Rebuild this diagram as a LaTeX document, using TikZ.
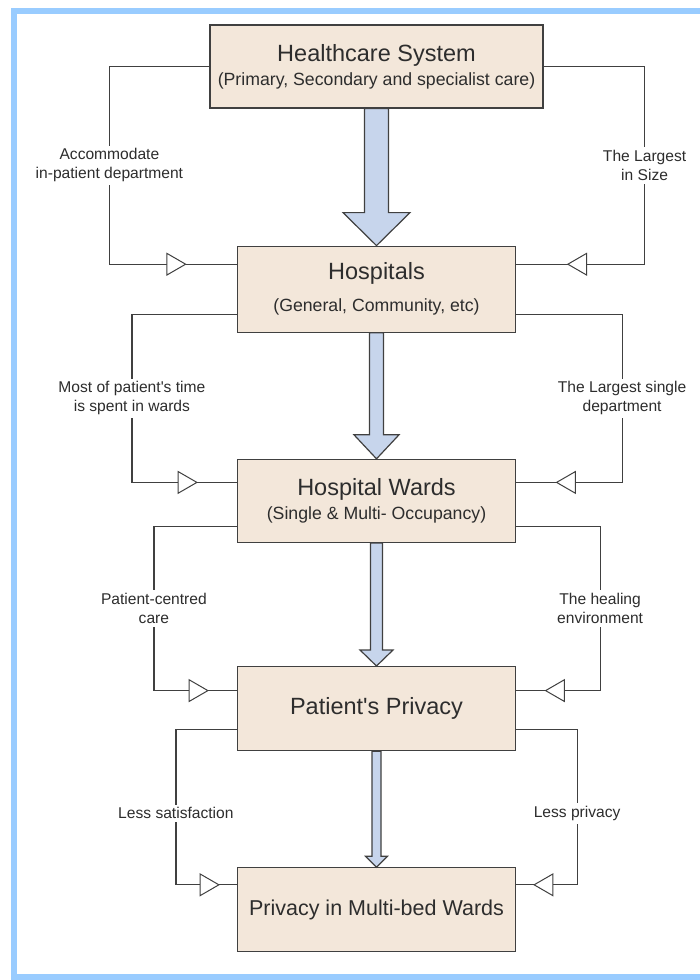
\documentclass[tikz,border=0pt]{standalone}
\usepackage{fontspec}
\setmainfont{Liberation Sans}
\usetikzlibrary{positioning,shapes.geometric}
\definecolor{framesky}{RGB}{153,204,255}
\definecolor{boxbeige}{RGB}{243,231,218}
\definecolor{boxedge}{RGB}{64,64,64}
\definecolor{flowblue}{RGB}{199,213,236}
\definecolor{inkgray}{RGB}{45,45,45}

\newcommand{\boxsub}{\fontsize{17.7}{21}\selectfont}
% from, to, half shaft, half head, head length
\newcommand{\fatarrow}[5]{%
  \draw[bigflow] ([xshift=-#3]#1.south) -- ([xshift=-#3,yshift=#5]#2.north)
    -- ([xshift=-#4,yshift=#5]#2.north) -- (#2.north)
    -- ([xshift=#4,yshift=#5]#2.north) -- ([xshift=#3,yshift=#5]#2.north)
    -- ([xshift=#3]#1.south) -- cycle;}

\begin{document}
\begin{tikzpicture}[x=1pt, y=1pt,
    box/.style={rectangle, draw=boxedge, line width=1.2pt, fill=boxbeige,
                minimum width=278pt, minimum height=84pt, align=center,
                text=inkgray, font=\fontsize{23.5}{26}\selectfont},
    conn/.style={draw=boxedge, line width=1.2pt},
    lab/.style={fill=white, align=center, text=inkgray, inner sep=3pt,
                font=\fontsize{15.6}{19}\selectfont},
    tri/.style={regular polygon, regular polygon sides=3, draw=boxedge,
                fill=white, line width=1pt, minimum size=25pt, inner sep=0pt},
    tril/.style={tri, shape border rotate=-90},
    trir/.style={tri, shape border rotate=90},
    bigflow/.style={draw=boxedge, line width=1.2pt, fill=flowblue}
  ]
  \useasboundingbox (0,0) rectangle (700,-980);
  % frame, open on the right
  \draw[framesky, line width=6pt] (700,-11) -- (14,-11) -- (14,-977) -- (700,-977);

  % --- boxes ---
  \node[box, minimum width=333pt, minimum height=83pt] (hs) at (376.5,-66.5)
    {Healthcare System\\[-2pt]{\boxsub (Primary, Secondary and specialist care)}};
  \node[box, below=137pt of hs, minimum height=86pt] (hosp)
    {Hospitals\\[6pt]{\boxsub (General, Community, etc)}};
  \node[box, below=126pt of hosp, minimum height=83pt] (wards)
    {Hospital Wards\\[-2pt]{\boxsub (Single \& Multi- Occupancy)}};
  \node[box, below=123pt of wards] (priv) {Patient\textquotesingle s Privacy};
  \node[box, below=116pt of priv, font=\fontsize{21.5}{25}\selectfont] (multi)
    {Privacy in Multi-bed Wards};

  % --- main flow ---
  \fatarrow{hs}{hosp}{12pt}{33.5pt}{33pt}
  \fatarrow{hosp}{wards}{7pt}{22.5pt}{24pt}
  \fatarrow{wards}{priv}{6pt}{16.5pt}{16pt}
  \fatarrow{priv}{multi}{4.5pt}{11pt}{11pt}

  % --- side links ---
  \draw[conn] (hs.west) -- ++(-100pt,0)
    |- node[pos=0.25,lab]{Accommodate\\in-patient department}
       node[pos=0.75,tril]{} ([yshift=25pt]hosp.west);
  \draw[conn] (hs.east) -- ++(101pt,0)
    |- node[pos=0.25,lab]{The Largest\\in Size}
       node[pos=0.75,trir]{} ([yshift=25pt]hosp.east);

  \draw[conn] ([yshift=-25pt]hosp.west) -- ++(-105pt,0)
    |- node[pos=0.25,lab]{Most of patient\textquotesingle s time\\is spent in wards}
       node[pos=0.75,tril]{} ([yshift=18.5pt]wards.west);
  \draw[conn] ([yshift=-25pt]hosp.east) -- ++(106pt,0)
    |- node[pos=0.25,lab]{The Largest single\\department}
       node[pos=0.75,trir]{} ([yshift=18.5pt]wards.east);

  \draw[conn] ([yshift=-25.5pt]wards.west) -- ++(-83pt,0)
    |- node[pos=0.25,lab]{Patient-centred\\care}
       node[pos=0.75,tril]{} ([yshift=18pt]priv.west);
  \draw[conn] ([yshift=-25.5pt]wards.east) -- ++(84pt,0)
    |- node[pos=0.25,lab]{The healing\\environment}
       node[pos=0.75,trir]{} ([yshift=18pt]priv.east);

  \draw[conn] ([yshift=-21pt]priv.west) -- ++(-61pt,0)
    |- node[pos=0.27,lab]{Less satisfaction}
       node[pos=0.75,tril]{} ([yshift=25pt]multi.west);
  \draw[conn] ([yshift=-21pt]priv.east) -- ++(61pt,0)
    |- node[pos=0.27,lab]{Less privacy}
       node[pos=0.75,trir]{} ([yshift=25pt]multi.east);
\end{tikzpicture}
\end{document}
